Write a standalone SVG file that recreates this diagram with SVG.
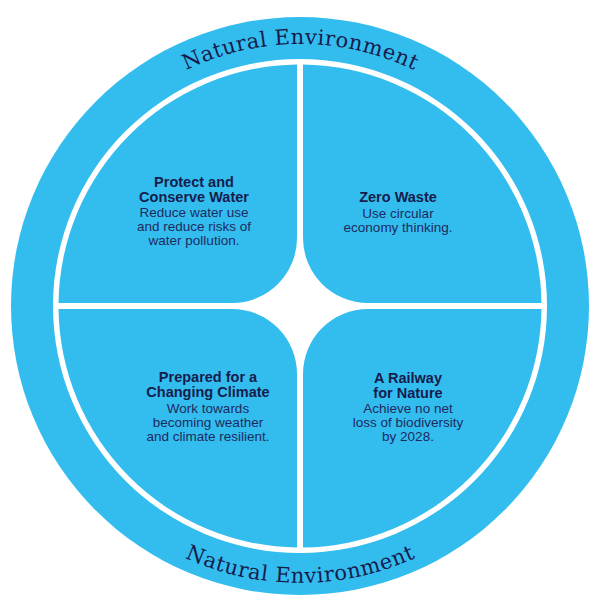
<svg xmlns="http://www.w3.org/2000/svg" width="600" height="613" viewBox="0 0 600 613">
  <style>
    .quad { fill: #33BDEF; }
    .ring { font-family: "DejaVu Serif", "Liberation Serif", serif; font-size: 21px; fill: #161C4C; }
    .head { font-family: "Liberation Sans", Arial, sans-serif; font-size: 14.5px; font-weight: bold; fill: #161C4C; text-anchor: middle; }
    .body { font-family: "Liberation Sans", Arial, sans-serif; font-size: 13.5px; fill: #1E2A5E; text-anchor: middle; }
  </style>
  <defs>
    <path id="topArc" d="M38,306 A262,262 0 0 1 562,306"/>
    <path id="botArc" d="M23,306 A277,277 0 0 0 577,306"/>
  </defs>
  <rect width="600" height="613" fill="#FFFFFF"/>
  <g id="outer-ring">
    <circle cx="300" cy="306" r="289" fill="#33BDEF"/>
    <circle cx="300" cy="306" r="247" fill="#FFFFFF"/>
    <text class="ring"><textPath href="#topArc" startOffset="50%" text-anchor="middle" textLength="236" lengthAdjust="spacing">Natural Environment</textPath></text>
    <text class="ring"><textPath href="#botArc" startOffset="50%" text-anchor="middle" textLength="238" lengthAdjust="spacing">Natural Environment</textPath></text>
  </g>
  <g id="protect-water">
    <path class="quad" d="M297,64.52 A241.5,241.5 0 0 0 58.52,303 L232,303 A65,65 0 0 0 297,238 Z"/>
    <text class="head" x="194" y="187">Protect and</text>
    <text class="head" x="194" y="202">Conserve Water</text>
    <text class="body" x="194" y="217">Reduce water use</text>
    <text class="body" x="194" y="231">and reduce risks of</text>
    <text class="body" x="194" y="245">water pollution.</text>
  </g>
  <g id="zero-waste">
    <path class="quad" d="M303,64.52 L303,238 A65,65 0 0 0 368,303 L541.48,303 A241.5,241.5 0 0 0 303,64.52 Z"/>
    <text class="head" x="398" y="202">Zero Waste</text>
    <text class="body" x="398" y="218">Use circular</text>
    <text class="body" x="398" y="232">economy thinking.</text>
  </g>
  <g id="changing-climate">
    <path class="quad" d="M58.52,309 A241.5,241.5 0 0 0 297,547.48 L297,374 A65,65 0 0 0 232,309 Z"/>
    <text class="head" x="208" y="382">Prepared for a</text>
    <text class="head" x="208" y="397">Changing Climate</text>
    <text class="body" x="208" y="413">Work towards</text>
    <text class="body" x="208" y="427">becoming weather</text>
    <text class="body" x="208" y="441">and climate resilient.</text>
  </g>
  <g id="railway-nature">
    <path class="quad" d="M303,547.48 A241.5,241.5 0 0 0 541.48,309 L368,309 A65,65 0 0 0 303,374 Z"/>
    <text class="head" x="408" y="383">A Railway</text>
    <text class="head" x="408" y="398">for Nature</text>
    <text class="body" x="408" y="413">Achieve no net</text>
    <text class="body" x="408" y="427">loss of biodiversity</text>
    <text class="body" x="408" y="441">by 2028.</text>
  </g>
  <g id="connectors"></g>
</svg>
